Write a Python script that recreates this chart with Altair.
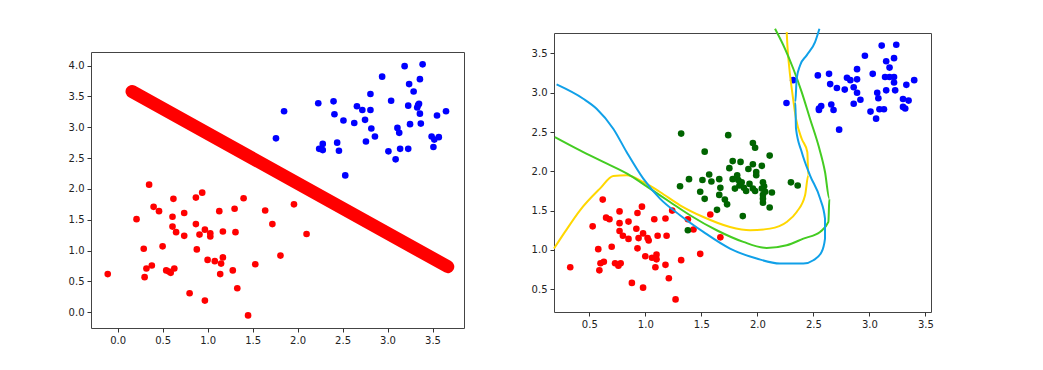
import altair as alt
import pandas as pd

# ---- Left panel data ----
left_red_x = [-0.11, 0.21, 0.35, 0.29, 0.32, 0.38, 0.30, 0.40, 0.46, 0.50, 0.62, 0.61, 0.61, 0.65, 0.74, 0.74,
              0.54, 0.59, 0.57, 0.63, 0.80, 0.87, 0.94, 0.87, 0.91, 0.97, 1.03, 1.03, 0.88, 1.00, 0.97, 1.08,
              1.17, 1.15, 1.14, 1.13, 1.17, 1.30, 1.31, 1.40, 1.28, 1.33, 1.45, 1.53, 1.64, 1.72, 1.81, 1.96, 2.10]
left_red_y = [0.62, 1.51, 2.07, 1.03, 0.71, 0.76, 0.57, 1.71, 1.64, 1.07, 1.84, 1.55, 1.39, 1.30, 1.61, 1.24,
              0.68, 0.64, 0.66, 0.71, 0.31, 1.86, 1.94, 1.43, 1.26, 1.34, 1.28, 1.23, 1.02, 0.85, 0.19, 0.83,
              0.89, 0.79, 0.62, 1.64, 1.31, 1.68, 1.30, 1.85, 0.68, 0.39, -0.05, 0.78, 1.65, 1.43, 0.92, 1.75, 1.27]
left_blue_x = [1.76, 1.85, 2.23, 2.24, 2.28, 2.28, 2.40, 2.41, 2.44, 2.46, 2.53, 2.51, 2.63, 2.66, 2.72, 2.75,
               2.76, 2.81, 2.81, 2.82, 2.86, 2.94, 3.04, 3.01, 3.09, 3.11, 3.13, 3.14, 3.19, 3.24, 3.23, 3.25,
               3.23, 3.29, 3.33, 3.34, 3.35, 3.36, 3.37, 3.36, 3.39, 3.49, 3.52, 3.51, 3.57, 3.55, 3.65]
left_blue_y = [2.82, 3.26, 3.39, 2.65, 2.73, 2.63, 3.42, 3.21, 2.75, 2.62, 2.22, 3.11, 3.07, 3.34, 3.28, 3.12,
               2.77, 3.54, 3.28, 2.98, 2.85, 3.82, 3.43, 2.61, 2.48, 2.99, 2.91, 2.65, 3.99, 3.70, 3.35, 3.05,
               2.65, 3.58, 3.32, 3.36, 3.38, 3.22, 3.06, 3.78, 4.02, 2.85, 2.80, 2.68, 2.84, 3.19, 3.26]
line_x = [0.16, 3.67]
line_y = [3.58, 0.74]

# ---- Right panel data ----
right_red_x = [0.33, 0.53, 0.62, 0.65, 0.68, 0.77, 0.77, 0.77, 0.80, 0.85, 0.85, 0.58, 0.63, 0.60, 0.59, 0.70,
               0.73, 0.76, 0.78, 0.88, 0.93, 0.97, 0.92, 0.94, 0.98, 1.02, 1.03, 0.93, 0.98, 1.00, 1.06, 1.10,
               1.10, 1.09, 1.08, 1.11, 1.18, 1.19, 1.18, 1.21, 1.27, 1.24, 1.32, 1.38, 1.43, 1.49, 1.58, 1.67]
right_red_y = [0.78, 1.30, 1.64, 1.41, 1.39, 1.49, 1.34, 1.24, 1.18, 1.36, 1.14, 1.01, 0.85, 0.83, 0.74, 1.04,
               0.83, 0.80, 0.83, 0.58, 1.47, 1.55, 1.27, 1.15, 1.21, 1.15, 1.12, 1.02, 0.52, 0.92, 0.90, 0.94,
               0.88, 0.78, 1.39, 1.18, 1.40, 1.18, 0.81, 0.64, 0.37, 1.50, 0.87, 1.39, 1.26, 0.95, 1.45, 1.16]
right_green_x = [1.32, 1.74, 1.53, 1.96, 1.98, 2.11, 1.78, 1.85, 1.96, 2.04, 1.75, 1.92, 1.99, 1.99, 1.57, 1.39,
                 1.51, 1.59, 1.66, 1.31, 1.49, 1.67, 1.66, 1.53, 1.78, 1.82, 1.83, 1.84, 1.80, 1.86, 1.88, 1.90,
                 1.93, 1.96, 1.98, 2.05, 2.06, 2.04, 2.07, 2.05, 2.13, 2.05, 2.05, 2.11, 1.71, 1.73, 1.64, 1.87,
                 2.30, 2.36, 1.38]
right_green_y = [2.48, 2.46, 2.25, 2.36, 2.30, 2.20, 2.13, 2.12, 2.09, 2.07, 2.04, 2.03, 1.99, 1.95, 1.96, 1.90,
                 1.89, 1.87, 1.90, 1.81, 1.74, 1.79, 1.70, 1.65, 1.90, 1.95, 1.89, 1.82, 1.78, 1.86, 1.79, 1.75,
                 1.84, 1.78, 1.75, 1.86, 1.81, 1.78, 1.74, 1.70, 1.73, 1.65, 1.60, 1.54, 1.64, 1.58, 1.51, 1.43,
                 1.86, 1.82, 1.25]
right_blue_x = [2.26, 2.32, 2.54, 2.64, 2.65, 2.71, 2.55, 2.57, 2.55, 2.66, 2.68, 2.73, 2.78, 2.80, 2.83, 2.89,
                2.89, 2.86, 2.89, 2.92, 2.86, 2.96, 3.03, 3.11, 3.24, 3.15, 3.18, 3.22, 3.14, 3.18, 3.22, 3.15,
                3.23, 3.22, 3.07, 3.08, 3.01, 3.09, 3.13, 3.06, 3.33, 3.40, 3.30, 3.35, 3.30, 3.32]
right_blue_y = [2.87, 3.16, 3.22, 3.24, 3.11, 3.06, 2.80, 2.83, 2.78, 2.85, 2.78, 2.53, 3.04, 3.19, 3.16, 3.17,
                3.30, 3.07, 3.00, 2.91, 2.86, 3.47, 3.24, 3.60, 3.61, 3.40, 3.32, 3.44, 3.20, 3.20, 3.20, 3.03,
                3.03, 3.13, 3.00, 2.93, 2.76, 2.79, 2.79, 2.67, 3.10, 3.16, 2.92, 2.90, 2.82, 2.80]

curve_blue_x = [0.208, 0.446, 0.565, 0.714, 0.833, 0.982, 1.131, 1.310, 1.518, 1.756, 1.994, 2.202, 2.411, 2.500,
                2.574, 2.604, 2.604, 2.560, 2.470, 2.396, 2.345, 2.339, 2.351, 2.381, 2.440, 2.515, 2.554]
curve_blue_y = [3.106, 2.924, 2.797, 2.542, 2.246, 1.907, 1.653, 1.441, 1.229, 1.017, 0.890, 0.826, 0.826, 0.869,
                0.975, 1.144, 1.398, 1.653, 1.949, 2.246, 2.542, 2.881, 3.178, 3.347, 3.475, 3.644, 3.814]
curve_green_x = [0.193, 0.417, 0.625, 0.863, 1.042, 1.220, 1.399, 1.637, 1.875, 2.083, 2.262, 2.411, 2.560, 2.634,
                 2.643, 2.604, 2.545, 2.470, 2.396, 2.321, 2.247, 2.158]
curve_green_y = [2.436, 2.267, 2.119, 1.949, 1.780, 1.610, 1.441, 1.250, 1.102, 1.025, 1.059, 1.144, 1.229, 1.356,
                 1.653, 1.992, 2.331, 2.669, 3.008, 3.305, 3.559, 3.814]
curve_yellow_x = [0.185, 0.283, 0.417, 0.595, 0.714, 0.833, 0.982, 1.131, 1.310, 1.518, 1.756, 1.935, 2.113, 2.262,
                  2.351, 2.426, 2.455, 2.446, 2.396, 2.345, 2.315, 2.286, 2.268, 2.262]
curve_yellow_y = [1.017, 1.229, 1.504, 1.780, 1.941, 1.949, 1.864, 1.737, 1.568, 1.419, 1.292, 1.250, 1.271, 1.356,
                  1.483, 1.695, 1.949, 2.246, 2.415, 2.669, 2.966, 3.305, 3.602, 3.771]

left_xticks = [0.0, 0.5, 1.0, 1.5, 2.0, 2.5, 3.0, 3.5]
left_yticks = [0.0, 0.5, 1.0, 1.5, 2.0, 2.5, 3.0, 3.5, 4.0]
right_xticks = [0.5, 1.0, 1.5, 2.0, 2.5, 3.0, 3.5]
right_yticks = [0.5, 1.0, 1.5, 2.0, 2.5, 3.0, 3.5]

FONT = "DejaVu Sans"
FRAME = "#444444"


def pts(xs, ys):
    return pd.DataFrame({"x": xs, "y": ys})


def curve(xs, ys):
    return pd.DataFrame({"x": xs, "y": ys, "i": list(range(len(xs)))})


def axes(xdom, ydom, xt, yt):
    common = dict(format=".1f", title=None, grid=False, domain=False, tickSize=4,
                  tickColor="#333333", labelColor="#222222", labelFont=FONT, labelFontSize=10, labelPadding=3)
    X = alt.X("x:Q", scale=alt.Scale(domain=xdom, nice=False, zero=False), axis=alt.Axis(values=xt, **common))
    Y = alt.Y("y:Q", scale=alt.Scale(domain=ydom, nice=False, zero=False), axis=alt.Axis(values=yt, **common))
    return X, Y


LX, LY = axes([-0.296, 3.85], [-0.254, 4.22], left_xticks, left_yticks)
left_plot = alt.layer(
    alt.Chart(pts(left_red_x, left_red_y)).mark_circle(size=44, opacity=1, color="#ff0000").encode(x=LX, y=LY),
    alt.Chart(pts(left_blue_x, left_blue_y)).mark_circle(size=44, opacity=1, color="#0000ff").encode(x=LX, y=LY),
    alt.Chart(pts(line_x, line_y)).mark_line(color="#ff0000", strokeWidth=13, strokeCap="round").encode(x=LX, y=LY),
).properties(width=373, height=276, view=alt.ViewBackground(stroke=FRAME, strokeWidth=1))

spacer = alt.Chart(pts([0], [0])).mark_text(text="").encode(
    x=alt.value(0), y=alt.value(0)
).properties(width=373, height=7, view=alt.ViewBackground(stroke="transparent"))

left = alt.vconcat(spacer, left_plot, spacing=10)

RX, RY = axes([0.185, 3.55], [0.21, 3.76], right_xticks, right_yticks)
right = alt.layer(
    alt.Chart(pts(right_red_x, right_red_y)).mark_circle(size=44, opacity=1, color="#ff0000").encode(x=RX, y=RY),
    alt.Chart(pts(right_green_x, right_green_y)).mark_circle(size=44, opacity=1, color="#006400").encode(x=RX, y=RY),
    alt.Chart(pts(right_blue_x, right_blue_y)).mark_circle(size=44, opacity=1, color="#0000ff").encode(x=RX, y=RY),
    alt.Chart(curve(curve_yellow_x, curve_yellow_y)).mark_line(color="#ffd700", strokeWidth=2, interpolate="monotone", clip=False).encode(x=RX, y=RY, order="i:Q"),
    alt.Chart(curve(curve_green_x, curve_green_y)).mark_line(color="#44cc22", strokeWidth=2, interpolate="monotone", clip=False).encode(x=RX, y=RY, order="i:Q"),
    alt.Chart(curve(curve_blue_x, curve_blue_y)).mark_line(color="#10a0e8", strokeWidth=2, interpolate="monotone", clip=False).encode(x=RX, y=RY, order="i:Q"),
).properties(width=377, height=279, view=alt.ViewBackground(stroke=FRAME, strokeWidth=1))

chart = alt.hconcat(left, right, spacing=55).properties(
    padding={"left": 59, "top": 16, "right": 5, "bottom": 5}
).configure(background="white").configure_view(stroke=FRAME, strokeWidth=1)

chart.save("out.html", embed_options={"renderer": "svg", "actions": False})
